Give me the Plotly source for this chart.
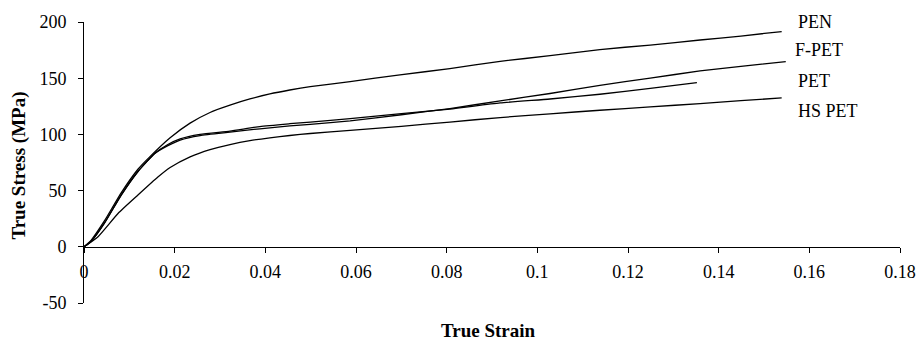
import plotly.graph_objects as go

# ---- data ----
pen_strain = [0, 0.0016, 0.0045, 0.0082, 0.0119, 0.0145, 0.019, 0.0234, 0.0278, 0.0322, 0.0366,
              0.041, 0.0454, 0.0499, 0.0587, 0.0697, 0.0807, 0.0918, 0.1028, 0.1138, 0.1249,
              0.1359, 0.1449, 0.1539]
pen_stress = [0, 6, 23, 48, 69, 80, 97, 110, 119.5, 126, 131.5,
              136, 139.5, 142.5, 147, 153, 158.5, 165, 170, 175.5, 179.5,
              184, 187.5, 191.5]

fpet_strain = [0, 0.0016, 0.0045, 0.0082, 0.0119, 0.0156, 0.0185, 0.0212, 0.0256, 0.0322, 0.0388,
               0.0454, 0.0499, 0.0587, 0.070, 0.0807, 0.0918, 0.1028, 0.1138, 0.1249, 0.1359,
               0.1449, 0.1548]
fpet_stress = [0, 5, 21, 46, 67, 83, 90, 95, 99, 102, 105,
               107.5, 109, 112, 117.5, 123, 129.8, 136.4, 143.7, 150, 156.5,
               160.5, 164.8]

pet_strain = [0, 0.0016, 0.0045, 0.0082, 0.0119, 0.0156, 0.0185, 0.0212, 0.0256, 0.0322, 0.0388,
              0.0454, 0.0499, 0.0587, 0.070, 0.0807, 0.0918, 0.1028, 0.1138, 0.1249, 0.1352]
pet_stress = [0, 5, 21, 46, 67, 83, 91, 96, 100, 103, 107,
              109.5, 111, 114, 118.5, 122.5, 128, 131.5, 135.7, 141, 146]

hspet_strain = [0, 0.0031, 0.0075, 0.0119, 0.0163, 0.019, 0.0234, 0.0278, 0.0322, 0.0366, 0.041,
                0.0454, 0.0499, 0.0587, 0.070, 0.0807, 0.0918, 0.1028, 0.1138, 0.1249, 0.1359,
                0.1449, 0.1539]
hspet_stress = [0, 9, 29.6, 46, 62, 70.5, 80, 86.5, 91, 94.5, 97,
                99, 100.8, 103.5, 107.2, 111, 115, 118.3, 121.5, 124.5, 127.4,
                130, 132.5]

series_names = ["PEN", "F-PET", "PET", "HS PET"]
label_x = [0.1571, 0.1564, 0.1571, 0.1571]
label_y = [200, 174.8, 147.3, 120.6]

x_ticks = [0, 0.02, 0.04, 0.06, 0.08, 0.1, 0.12, 0.14, 0.16, 0.18]
x_ticktext = ["0", "0.02", "0.04", "0.06", "0.08", "0.1", "0.12", "0.14", "0.16", "0.18"]
y_ticks = [-50, 0, 50, 100, 150, 200]
y_ticktext = ["-50", "0", "50", "100", "150", "200"]

FONT = "Liberation Serif, Times New Roman, serif"

fig = go.Figure()
for xs, ys, name in [(pen_strain, pen_stress, "PEN"), (fpet_strain, fpet_stress, "F-PET"),
                     (pet_strain, pet_stress, "PET"), (hspet_strain, hspet_stress, "HS PET")]:
    fig.add_trace(go.Scatter(x=xs, y=ys, mode="lines", name=name,
                             line=dict(color="black", width=1.3, shape="spline", smoothing=0.5),
                             showlegend=False))

annotations = []
for name, lx, ly in zip(series_names, label_x, label_y):
    annotations.append(dict(x=lx, y=ly, xref="x", yref="y", text=name, showarrow=False,
                            xanchor="left", yanchor="middle",
                            font=dict(family=FONT, size=18, color="black")))
annotations.append(dict(x=-0.0793, y=0.49, xref="paper", yref="paper", text="<b>True Stress (MPa)</b>",
                        textangle=-90, showarrow=False, xanchor="center", yanchor="middle",
                        font=dict(family=FONT, size=19, color="black")))
annotations.append(dict(x=0.496, y=-0.098, xref="paper", yref="paper", text="<b>True Strain</b>",
                        showarrow=False, xanchor="center", yanchor="middle",
                        font=dict(family=FONT, size=19, color="black")))

fig.update_layout(
    width=916, height=342,
    margin=dict(l=84, r=16, t=22, b=39),
    paper_bgcolor="white", plot_bgcolor="white",
    font=dict(family=FONT, size=18, color="black"),
    xaxis=dict(range=[0, 0.18], tickvals=x_ticks, ticktext=x_ticktext, automargin=False,
               anchor="free", position=0.2, showline=True, linecolor="black", linewidth=1,
               ticks="outside", ticklen=5, tickcolor="black", showgrid=False, zeroline=False,
               ticklabelstandoff=4, tickfont=dict(family=FONT, size=18, color="black")),
    yaxis=dict(range=[-50, 200], tickvals=y_ticks, ticktext=y_ticktext, automargin=False,
               showline=True, linecolor="black", linewidth=1,
               ticks="outside", ticklen=5, tickcolor="black", showgrid=False, zeroline=False,
               ticklabelstandoff=8, tickfont=dict(family=FONT, size=18, color="black")),
    annotations=annotations,
)

# remove the page's default body margin so the figure fills the window exactly
fig.write_html("out.html", config={"displayModeBar": False, "staticPlot": True},
               post_script="document.body.style.margin='0';document.body.style.overflow='hidden';")
